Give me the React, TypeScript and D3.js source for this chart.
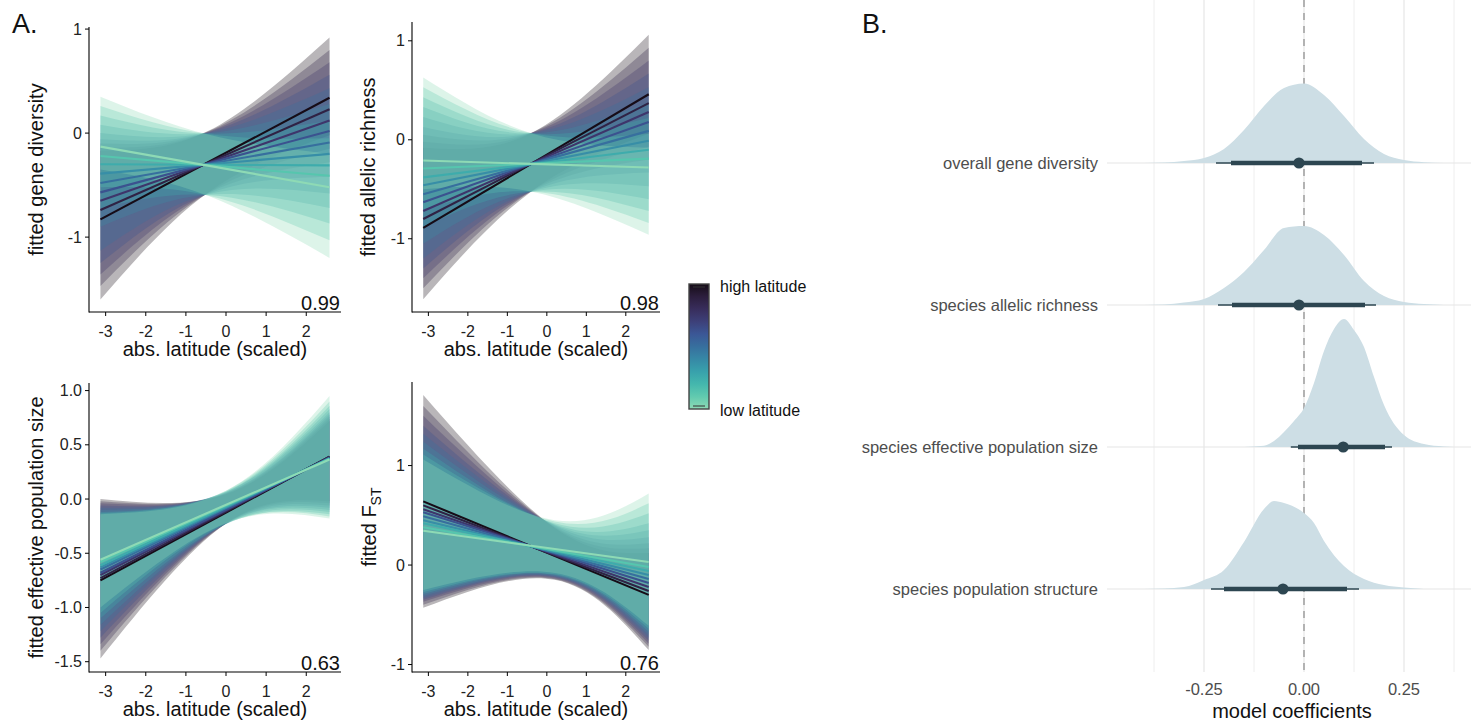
import React from 'react'
import * as d3 from 'd3'

// ---------- panel A data: one fitted line + ribbon per latitude group (high -> low) ----------
const latTicks = [-3, -2, -1, 0, 1, 2]
const latMin = -3.13
const latMax = 2.58
const latDomain = [-3.415, 2.866]
const groupLevels = [0.04, 0.145, 0.25, 0.355, 0.46, 0.565, 0.67, 0.775, 0.88]

// fitted gene diversity
const geneLeft = [-0.83, -0.74, -0.65, -0.57, -0.48, -0.39, -0.3, -0.22, -0.13]
const geneRight = [0.34, 0.23, 0.12, 0.02, -0.09, -0.2, -0.31, -0.41, -0.52]
const geneUpL = [0.66, 0.6, 0.55, 0.51, 0.48, 0.47, 0.47, 0.48, 0.48]
const geneLoL = [0.77, 0.73, 0.71, 0.68, 0.65, 0.51, 0.42, 0.3, 0.22]
const geneUpM = [0.3, 0.3, 0.3, 0.3, 0.3, 0.3, 0.3, 0.3, 0.3]
const geneLoM = [0.29, 0.29, 0.29, 0.29, 0.29, 0.29, 0.29, 0.29, 0.29]
const geneUpR = [0.58, 0.57, 0.56, 0.54, 0.52, 0.48, 0.43, 0.36, 0.32]
const geneLoR = [0.36, 0.38, 0.4, 0.44, 0.49, 0.52, 0.56, 0.62, 0.68]

// fitted allelic richness
const alleleLeft = [-0.89, -0.8, -0.72, -0.63, -0.55, -0.46, -0.38, -0.29, -0.21]
const alleleRight = [0.46, 0.37, 0.28, 0.18, 0.09, -0.01, -0.1, -0.19, -0.28]
const alleleUpL = [0.81, 0.78, 0.77, 0.76, 0.78, 0.79, 0.81, 0.82, 0.84]
const alleleLoL = [0.72, 0.7, 0.68, 0.67, 0.65, 0.59, 0.5, 0.41, 0.29]
const alleleUpM = [0.31, 0.31, 0.31, 0.31, 0.31, 0.31, 0.31, 0.31, 0.31]
const alleleLoM = [0.28, 0.28, 0.28, 0.28, 0.28, 0.28, 0.28, 0.28, 0.28]
const alleleUpR = [0.6, 0.56, 0.52, 0.49, 0.44, 0.39, 0.32, 0.25, 0.2]
const alleleLoR = [0.4, 0.44, 0.48, 0.51, 0.56, 0.59, 0.62, 0.65, 0.68]

// fitted effective population size
const neLeft = [-0.75, -0.73, -0.7, -0.68, -0.65, -0.63, -0.61, -0.58, -0.56]
const neRight = [0.39, 0.39, 0.385, 0.38, 0.38, 0.375, 0.375, 0.37, 0.365]
const neUpL = [0.75, 0.71, 0.66, 0.62, 0.57, 0.53, 0.49, 0.45, 0.42]
const neLoL = [0.72, 0.67, 0.64, 0.6, 0.57, 0.53, 0.49, 0.47, 0.44]
const neUpM = [0.17, 0.165, 0.16, 0.155, 0.15, 0.145, 0.14, 0.135, 0.13]
const neLoM = [0.1, 0.11, 0.12, 0.13, 0.14, 0.15, 0.16, 0.165, 0.17]
const neUpR = [0.33, 0.35, 0.375, 0.4, 0.42, 0.455, 0.485, 0.53, 0.585]
const neLoR = [0.41, 0.43, 0.445, 0.46, 0.48, 0.495, 0.515, 0.53, 0.545]

// fitted FST
const fstLeft = [0.64, 0.6, 0.56, 0.53, 0.49, 0.45, 0.42, 0.38, 0.345]
const fstRight = [-0.3, -0.26, -0.22, -0.18, -0.14, -0.1, -0.06, -0.02, 0.03]
const fstUpL = [1.07, 1.0, 0.94, 0.87, 0.83, 0.79, 0.75, 0.73, 0.715]
const fstLoL = [1.07, 1.0, 0.93, 0.88, 0.82, 0.76, 0.71, 0.65, 0.595]
const fstUpM = [0.28, 0.28, 0.28, 0.28, 0.28, 0.28, 0.28, 0.29, 0.29]
const fstLoM = [0.24, 0.24, 0.24, 0.24, 0.24, 0.24, 0.24, 0.24, 0.24]
const fstUpR = [0.42, 0.43, 0.44, 0.46, 0.49, 0.52, 0.58, 0.64, 0.69]
const fstLoR = [0.555, 0.56, 0.57, 0.58, 0.59, 0.6, 0.61, 0.62, 0.64]

const r2Labels = ['0.99', '0.98', '0.63', '0.76']

// ---------- panel B data ----------
const coefRows = [
  'overall gene diversity',
  'species allelic richness',
  'species effective population size',
  'species population structure',
]
const coefMedian = [-0.0125, -0.0125, 0.098, -0.0525]
const coefLo66 = [-0.1825, -0.18, -0.015, -0.2]
const coefHi66 = [0.145, 0.1525, 0.2025, 0.1075]
const coefLo95 = [-0.22, -0.215, -0.033, -0.2325]
const coefHi95 = [0.175, 0.18, 0.22, 0.1375]
const coefMajor = [-0.25, 0, 0.25]
const coefMinor = [-0.375, -0.125, 0.125, 0.375]

// posterior densities: [coefficient, density]
const densGene: [number, number][] = [
  [-0.4, 0], [-0.35, 0.025], [-0.3, 0.1], [-0.25, 0.25], [-0.2, 0.7], [-0.15, 1.65], [-0.1, 2.85],
  [-0.05, 3.75], [0, 3.98], [0.05, 3.4], [0.1, 2.35], [0.15, 1.2], [0.2, 0.45], [0.25, 0.15], [0.3, 0.04], [0.35, 0],
]
const densAllele: [number, number][] = [
  [-0.4, 0], [-0.35, 0.025], [-0.3, 0.125], [-0.25, 0.3], [-0.2, 0.85], [-0.15, 1.65], [-0.1, 2.75],
  [-0.05, 3.85], [0, 3.95], [0.05, 3.5], [0.1, 2.5], [0.15, 1.2], [0.2, 0.45], [0.25, 0.15], [0.3, 0.05], [0.35, 0],
]
const densNe: [number, number][] = [
  [-0.15, 0], [-0.1, 0.06], [-0.075, 0.3], [-0.05, 0.75], [-0.025, 1.3], [0, 1.95], [0.025, 3.2],
  [0.05, 4.8], [0.075, 5.9], [0.1, 6.4], [0.125, 5.85], [0.15, 5.0], [0.175, 3.5], [0.2, 2.1],
  [0.25, 0.6], [0.3, 0.15], [0.35, 0.03], [0.4, 0],
]
const densFst: [number, number][] = [
  [-0.4, 0], [-0.35, 0.025], [-0.3, 0.1], [-0.25, 0.45], [-0.2, 0.95], [-0.15, 2.35], [-0.1, 4.0],
  [-0.075, 4.4], [-0.05, 4.3], [0, 3.8], [0.025, 3.3], [0.05, 2.4], [0.1, 1.15], [0.15, 0.5], [0.2, 0.2],
  [0.25, 0.075], [0.3, 0],
]
const densities = [densGene, densAllele, densNe, densFst]

// ---------- styling ----------
const FONT = "'Liberation Sans', Arial, Helvetica, sans-serif"
const mako = d3.piecewise(d3.interpolateRgb, [
  '#0B0405', '#2C1E3D', '#3E356B', '#3B5796', '#357BA2', '#38A0AC', '#49C1AD', '#8BD9B3', '#DEF5E5',
])
const groupColor = (i: number) => mako(groupLevels[i])

type Panel = {
  yLeft: number[]; yRight: number[]
  upL: number[]; loL: number[]; upM: number[]; loM: number[]; upR: number[]; loR: number[]
  latMid: number
  yDomain: [number, number]
  yTicks: number[]
  digits: number
  left: number; right: number; top: number; bottom: number
  titleX: number
  title: React.ReactNode
  r2: string
}

const panels: Panel[] = [
  {
    yLeft: geneLeft, yRight: geneRight, upL: geneUpL, loL: geneLoL, upM: geneUpM, loM: geneLoM, upR: geneUpR, loR: geneLoR,
    latMid: -0.45, yDomain: [-1.72, 1.02], yTicks: [-1, 0, 1], digits: 0,
    left: 89, right: 341, top: 27, bottom: 312, titleX: 43, title: 'fitted gene diversity', r2: r2Labels[0],
  },
  {
    yLeft: alleleLeft, yRight: alleleRight, upL: alleleUpL, loL: alleleLoL, upM: alleleUpM, loM: alleleLoM, upR: alleleUpR, loR: alleleLoR,
    latMid: -0.4, yDomain: [-1.74, 1.19], yTicks: [-1, 0, 1], digits: 0,
    left: 412, right: 660, top: 22, bottom: 312, titleX: 375, title: 'fitted allelic richness', r2: r2Labels[1],
  },
  {
    yLeft: neLeft, yRight: neRight, upL: neUpL, loL: neLoL, upM: neUpM, loM: neLoM, upR: neUpR, loR: neLoR,
    latMid: 0.0, yDomain: [-1.595, 1.07], yTicks: [-1.5, -1, -0.5, 0, 0.5, 1], digits: 1,
    left: 89, right: 341, top: 383, bottom: 672, titleX: 43, title: 'fitted effective population size', r2: r2Labels[2],
  },
  {
    yLeft: fstLeft, yRight: fstRight, upL: fstUpL, loL: fstLoL, upM: fstUpM, loM: fstLoM, upR: fstUpR, loR: fstLoR,
    latMid: 0.2, yDomain: [-1.075, 1.84], yTicks: [-1, 0, 1], digits: 0,
    left: 412, right: 660, top: 382, bottom: 672, titleX: 376,
    title: (
      <>
        fitted F<tspan fontSize={14} dy={5}>ST</tspan>
      </>
    ),
    r2: r2Labels[3],
  },
]

function FitPanel({ p }: { p: Panel }) {
  const x = d3.scaleLinear().domain(latDomain).range([p.left, p.right])
  const y = d3.scaleLinear().domain(p.yDomain).range([p.bottom, p.top])
  const frac = (p.latMid - latMin) / (latMax - latMin)
  const band = d3
    .area<number[]>()
    .x(d => x(d[0]))
    .y0(d => y(d[1]))
    .y1(d => y(d[2]))
    .curve(d3.curveNatural)
  const line = d3
    .line<number[]>()
    .x(d => x(d[0]))
    .y(d => y(d[1]))
  const idx = d3.range(p.yLeft.length)
  const cy = (p.top + p.bottom) / 2

  return (
    <g>
      {idx.map(i => {
        const mid = p.yLeft[i] + (p.yRight[i] - p.yLeft[i]) * frac
        const pts = [
          [latMin, p.yLeft[i] - p.loL[i], p.yLeft[i] + p.upL[i]],
          [p.latMid, mid - p.loM[i], mid + p.upM[i]],
          [latMax, p.yRight[i] - p.loR[i], p.yRight[i] + p.upR[i]],
        ]
        return <path key={'b' + i} d={band(pts) || ''} fill={groupColor(i)} fillOpacity={0.3} />
      })}
      {idx.map(i => (
        <path
          key={'l' + i}
          d={line([[latMin, p.yLeft[i]], [latMax, p.yRight[i]]]) || ''}
          stroke={groupColor(i)}
          strokeWidth={2.1}
          fill="none"
        />
      ))}

      {/* axes */}
      <line x1={p.left} x2={p.left} y1={p.top} y2={p.bottom + 0.5} stroke="#000" strokeWidth={1.1} />
      <line x1={p.left} x2={p.right} y1={p.bottom} y2={p.bottom} stroke="#000" strokeWidth={1.1} />
      {latTicks.map(t => (
        <g key={'x' + t}>
          <line x1={x(t)} x2={x(t)} y1={p.bottom} y2={p.bottom + 4} stroke="#000" />
          <text x={x(t)} y={p.bottom + 25} textAnchor="middle" fontSize={16} fill="#222">
            {t}
          </text>
        </g>
      ))}
      {p.yTicks.map(t => (
        <g key={'y' + t}>
          <line x1={p.left - 4} x2={p.left} y1={y(t)} y2={y(t)} stroke="#000" />
          <text x={p.left - 7} y={y(t) + 5.5} textAnchor="end" fontSize={16} fill="#222">
            {t.toFixed(p.digits)}
          </text>
        </g>
      ))}
      <text x={(p.left + p.right) / 2} y={p.bottom + 44} textAnchor="middle" fontSize={20} fill="#111">
        abs. latitude (scaled)
      </text>
      <text
        transform={`translate(${p.titleX},${cy}) rotate(-90)`}
        textAnchor="middle"
        fontSize={20}
        fill="#111"
      >
        {p.title}
      </text>
      <text x={p.right - 1} y={p.bottom - 2} textAnchor="end" fontSize={20} fill="#111">
        {p.r2}
      </text>
    </g>
  )
}

function Legend() {
  const stops = d3.range(0, 1.0001, 0.1)
  return (
    <g>
      <defs>
        <linearGradient id="latGrad" x1="0" y1="0" x2="0" y2="1">
          {stops.map(s => (
            <stop key={s} offset={s} stopColor={mako(0.04 + 0.84 * s)} />
          ))}
        </linearGradient>
      </defs>
      <rect x={689} y={284} width={20} height={125} fill="url(#latGrad)" stroke="#444" strokeWidth={1.4} />
      <line x1={693} x2={705} y1={406} y2={406} stroke="#333" strokeWidth={1} />
      <line x1={693} x2={705} y1={287} y2={287} stroke="#333" strokeWidth={1} />
      <text x={720} y={292} fontSize={16} fill="#111">high latitude</text>
      <text x={720} y={416} fontSize={16} fill="#111">low latitude</text>
    </g>
  )
}

function CoefPanel() {
  const x = d3.scaleLinear().domain([-0.49, 0.42]).range([1108, 1472])
  const y = d3.scalePoint<string>().domain(coefRows).range([163, 589])
  const h = d3.scaleLinear().domain([0, 1]).range([0, 20])
  const bottom = 672
  const dens = d3
    .area<[number, number]>()
    .x(d => x(d[0]))
    .y0(0)
    .y1(d => -h(d[1]))
    .curve(d3.curveMonotoneX)
  const ink = '#2d4651'

  return (
    <g>
      {coefMinor.map(t => (
        <line key={'mn' + t} x1={x(t)} x2={x(t)} y1={0} y2={bottom} stroke="#ececec" strokeWidth={0.9} />
      ))}
      {coefMajor.map(t => (
        <line key={'mj' + t} x1={x(t)} x2={x(t)} y1={0} y2={bottom} stroke="#e6e6e6" strokeWidth={1.2} />
      ))}
      {coefRows.map(r => (
        <line key={'h' + r} x1={1107} x2={1471} y1={y(r)} y2={y(r)} stroke="#e6e6e6" strokeWidth={1.2} />
      ))}
      <line x1={x(0)} x2={x(0)} y1={0} y2={bottom} stroke="#8a8a8a" strokeWidth={1.2} strokeDasharray="7,6" />

      {coefRows.map((r, i) => {
        const cy = y(r) as number
        return (
          <g key={r}>
            <path d={dens(densities[i]) || ''} transform={`translate(0,${cy})`} fill="#cddee5" />
            <line x1={x(coefLo95[i])} x2={x(coefHi95[i])} y1={cy} y2={cy} stroke={ink} strokeWidth={1.7} />
            <line x1={x(coefLo66[i])} x2={x(coefHi66[i])} y1={cy} y2={cy} stroke={ink} strokeWidth={4.5} />
            <circle cx={x(coefMedian[i])} cy={cy} r={5.6} fill={ink} />
            <text x={1098} y={cy + 6} textAnchor="end" fontSize={16.5} fill="#4d4d4d">
              {r}
            </text>
          </g>
        )
      })}

      {coefMajor.map(t => (
        <text key={'t' + t} x={x(t)} y={695} textAnchor="middle" fontSize={16.5} fill="#4d4d4d">
          {t.toFixed(2)}
        </text>
      ))}
      <text x={1292} y={718} textAnchor="middle" fontSize={20} fill="#111">
        model coefficients
      </text>
    </g>
  )
}

export default function App() {
  return (
    <svg
      width={1471}
      height={723}
      style={{ position: 'absolute', left: 0, top: 0, background: '#fff' }}
      fontFamily={FONT}
    >
      <rect width={1471} height={723} fill="#fff" />
      {panels.map((p, i) => (
        <FitPanel key={i} p={p} />
      ))}
      <Legend />
      <CoefPanel />
      <text x={12} y={33} fontSize={27} fill="#111">A.</text>
      <text x={862} y={33} fontSize={27} fill="#111">B.</text>
    </svg>
  )
}
